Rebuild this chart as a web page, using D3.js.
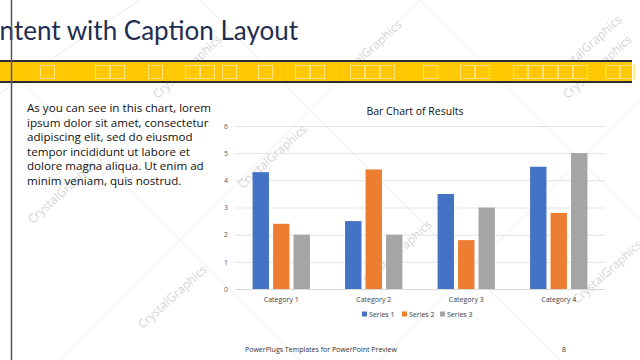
<!DOCTYPE html>
<html>
<head>
<meta charset="utf-8">
<script src="https://cdn.jsdelivr.net/npm/d3@7"></script>
<style>
  html, body { margin: 0; padding: 0; background: #fff; }
  svg { display: block; }
</style>
</head>
<body>
<div id="slide"></div>
<script>
// chart data
const categories = ["Category 1", "Category 2", "Category 3", "Category 4"]
const seriesNames = ["Series 1", "Series 2", "Series 3"]
const series1 = [4.3, 2.5, 3.5, 4.5]
const series2 = [2.4, 4.4, 1.8, 2.8]
const series3 = [2.0, 2.0, 3.0, 5.0]
const yTicks = [0, 1, 2, 3, 4, 5, 6]
const colors = ["#4472C4", "#ED7D31", "#A5A5A5"]

const captionLines = [
  "As you can see in this chart, lorem",
  "ipsum dolor sit amet, consectetur",
  "adipiscing elit, sed do eiusmod",
  "tempor incididunt ut labore et",
  "dolore magna aliqua. Ut enim ad",
  "minim veniam, quis nostrud."
]

const W = 640, H = 360
const font = "'Open Sans', 'Noto Sans', sans-serif"

const svg = d3.select("#slide").append("svg")
  .attr("width", W)
  .attr("height", H)

// watermark lines + text (background decoration)
const wm = svg.append("g")
const wmLines = [[-40, 120, 200, -40], [60, 360, 440, -20], [200, 0, 560, 360], [0, 60, 300, 360], [380, 360, 640, 100], [420, 0, 640, 220]]
wmLines.forEach(l => {
  wm.append("line").attr("x1", l[0]).attr("y1", l[1]).attr("x2", l[2]).attr("y2", l[3])
    .attr("stroke", "#ececec").attr("stroke-width", 1)
})
const wmText = [[65, 195], [190, 70], [370, 55], [600, 70], [275, 160], [175, 300], [400, 255], [610, 275], [590, 50]]
wmText.forEach(p => {
  wm.append("text").attr("transform", `translate(${p[0]},${p[1]}) rotate(-42)`)
    .attr("text-anchor", "middle").attr("font-family", font).attr("font-size", 12)
    .attr("fill", "#d4d4d4").text("CrystalGraphics")
})

// slide title (runs off the left edge like the reference)
svg.append("text")
  .attr("x", 298).attr("y", 40)
  .attr("text-anchor", "end")
  .attr("font-family", "'Lato', 'Open Sans', sans-serif")
  .attr("font-size", 26)
  .attr("fill", "#1F2D50")
  .text("Content with Caption Layout")

// yellow band
const band = svg.append("g")
band.append("rect").attr("x", 0).attr("y", 61).attr("width", 632).attr("height", 21).attr("fill", "#FFC800")
const sq = [40, 95, 110, 148, 185, 200, 222, 258, 295, 310, 350, 365, 380, 423, 460, 475, 513, 528, 543, 558, 573, 605, 620]
sq.forEach(x => {
  band.append("rect").attr("x", x + 0.5).attr("y", 65.5).attr("width", 14).attr("height", 13)
    .attr("fill", "none").attr("stroke", "#FFE27A").attr("stroke-width", 1)
})
band.append("line").attr("x1", 0).attr("x2", 632).attr("y1", 61).attr("y2", 61).attr("stroke", "#2b2b2b").attr("stroke-width", 2)
band.append("line").attr("x1", 0).attr("x2", 632).attr("y1", 82).attr("y2", 82).attr("stroke", "#2b2b2b").attr("stroke-width", 2)

// vertical rule
svg.append("line").attr("x1", 11.5).attr("x2", 11.5).attr("y1", 0).attr("y2", H)
  .attr("stroke", "#555").attr("stroke-width", 1.5)

// caption text
svg.append("g").selectAll("text").data(captionLines).join("text")
  .attr("x", 27).attr("y", (d, i) => 112 + i * 14.6)
  .attr("font-family", font).attr("font-size", 11.6).attr("fill", "#111")
  .text(d => d)

// chart
const plot = { left: 235, right: 605, top: 126, bottom: 289 }

const x0 = d3.scaleBand().domain(categories).range([plot.left, plot.right]).paddingInner(0.38).paddingOuter(0.19)
const x1 = d3.scaleBand().domain(seriesNames).range([0, x0.bandwidth()]).paddingInner(0.2)
const y = d3.scaleLinear().domain([0, 6]).range([plot.bottom, plot.top])

const g = svg.append("g")

g.append("g")
  .attr("transform", `translate(${plot.left},0)`)
  .call(d3.axisLeft(y).tickValues(yTicks).tickSize(-(plot.right - plot.left)).tickFormat(d3.format("d")))
  .call(a => a.select(".domain").remove())
  .call(a => a.selectAll(".tick line").attr("stroke", "#e3e3e3"))
  .call(a => a.selectAll(".tick text").attr("x", -7).attr("font-family", font).attr("font-size", 7).attr("fill", "#595959"))

const rows = categories.map((c, i) => ({ cat: c, vals: [series1[i], series2[i], series3[i]] }))

g.selectAll("g.grp").data(rows).join("g")
  .attr("class", "grp")
  .attr("transform", d => `translate(${x0(d.cat)},0)`)
  .selectAll("rect").data(d => d.vals.map((v, j) => ({ s: seriesNames[j], v, j })))
  .join("rect")
  .attr("x", d => x1(d.s))
  .attr("y", d => y(d.v))
  .attr("width", x1.bandwidth())
  .attr("height", d => y(0) - y(d.v))
  .attr("fill", d => colors[d.j])

g.append("g")
  .attr("transform", `translate(0,${plot.bottom})`)
  .call(d3.axisBottom(x0).tickSize(0).tickPadding(8))
  .call(a => a.select(".domain").attr("stroke", "#d9d9d9"))
  .call(a => a.selectAll(".tick text").attr("font-family", font).attr("font-size", 7).attr("fill", "#404040"))

// chart title
svg.append("text")
  .attr("x", 415).attr("y", 115).attr("text-anchor", "middle")
  .attr("font-family", font).attr("font-size", 10.5).attr("fill", "#111")
  .text("Bar Chart of Results")

// legend
const legend = svg.append("g").attr("transform", "translate(362,315)")
const legX = [0, 40, 78]
seriesNames.forEach((s, i) => {
  legend.append("rect").attr("x", legX[i]).attr("y", -3.5).attr("width", 5).attr("height", 5).attr("fill", colors[i])
  legend.append("text").attr("x", legX[i] + 7).attr("y", 2)
    .attr("font-family", font).attr("font-size", 7).attr("fill", "#404040").text(s)
})

// footer
svg.append("text").attr("x", 245).attr("y", 352)
  .attr("font-family", font).attr("font-size", 7).attr("fill", "#333")
  .text("PowerPlugs Templates for PowerPoint  Preview")
svg.append("text").attr("x", 562).attr("y", 352)
  .attr("font-family", font).attr("font-size", 7).attr("fill", "#333")
  .text("8")
</script>
</body>
</html>
